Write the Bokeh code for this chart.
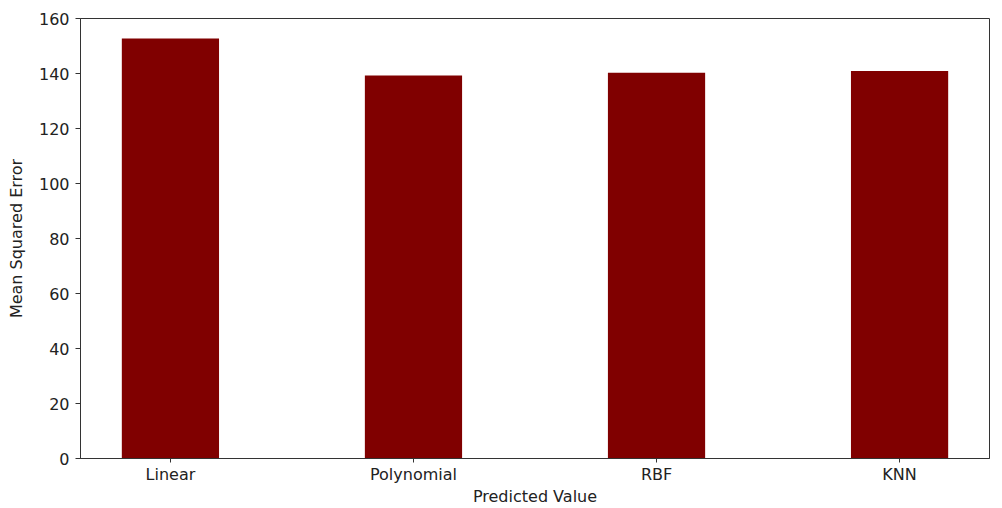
from bokeh.plotting import figure
from bokeh.models import Range1d, FixedTicker, ColumnDataSource
from bokeh.embed import file_html
from bokeh.resources import INLINE

models = ["Linear", "Polynomial", "RBF", "KNN"]
mse = [152.7, 139.3, 140.3, 140.9]
y_ticks = [0, 20, 40, 60, 80, 100, 120, 140, 160]

xs = list(range(len(models)))
src = ColumnDataSource(dict(x=xs, top=mse))

p = figure(width=1002, height=508, output_backend="svg", toolbar_location=None,
           x_range=Range1d(-0.37, 3.37), y_range=Range1d(0, 160),
           min_border_left=80, min_border_right=13, min_border_top=18, min_border_bottom=50)

p.vbar(x="x", top="top", bottom=0, width=0.4, source=src, color="#800000", line_color=None)

p.xgrid.visible = False
p.ygrid.visible = False
p.outline_line_color = "#333333"
p.outline_line_width = 1
p.outline_line_alpha = 1
p.background_fill_color = "white"
p.border_fill_color = "white"

font = "DejaVu Sans"
p.xaxis.ticker = FixedTicker(ticks=xs)
p.xaxis.major_label_overrides = {i: m for i, m in enumerate(models)}
p.yaxis.ticker = FixedTicker(ticks=y_ticks)
p.xaxis.axis_label = "Predicted Value"
p.yaxis.axis_label = "Mean Squared Error"
for ax in (p.xaxis[0], p.yaxis[0]):
    ax.axis_line_color = "#333333"
    ax.major_tick_line_color = "#333333"
    ax.major_tick_out = 5
    ax.major_tick_in = 0
    ax.minor_tick_line_color = None
    ax.major_label_text_font = font
    ax.major_label_text_font_size = "16px"
    ax.major_label_text_color = "#222222"
    ax.axis_label_text_font = font
    ax.axis_label_text_font_size = "16px"
    ax.axis_label_text_font_style = "normal"
    ax.axis_label_text_color = "#222222"
p.xaxis.major_tick_out = 4
p.xaxis.major_label_standoff = 2
p.xaxis.axis_label_standoff = 0
p.yaxis.major_label_standoff = 6
p.yaxis.axis_label_standoff = 10

with open("out.html", "w") as f:
    f.write(file_html(p, INLINE))
